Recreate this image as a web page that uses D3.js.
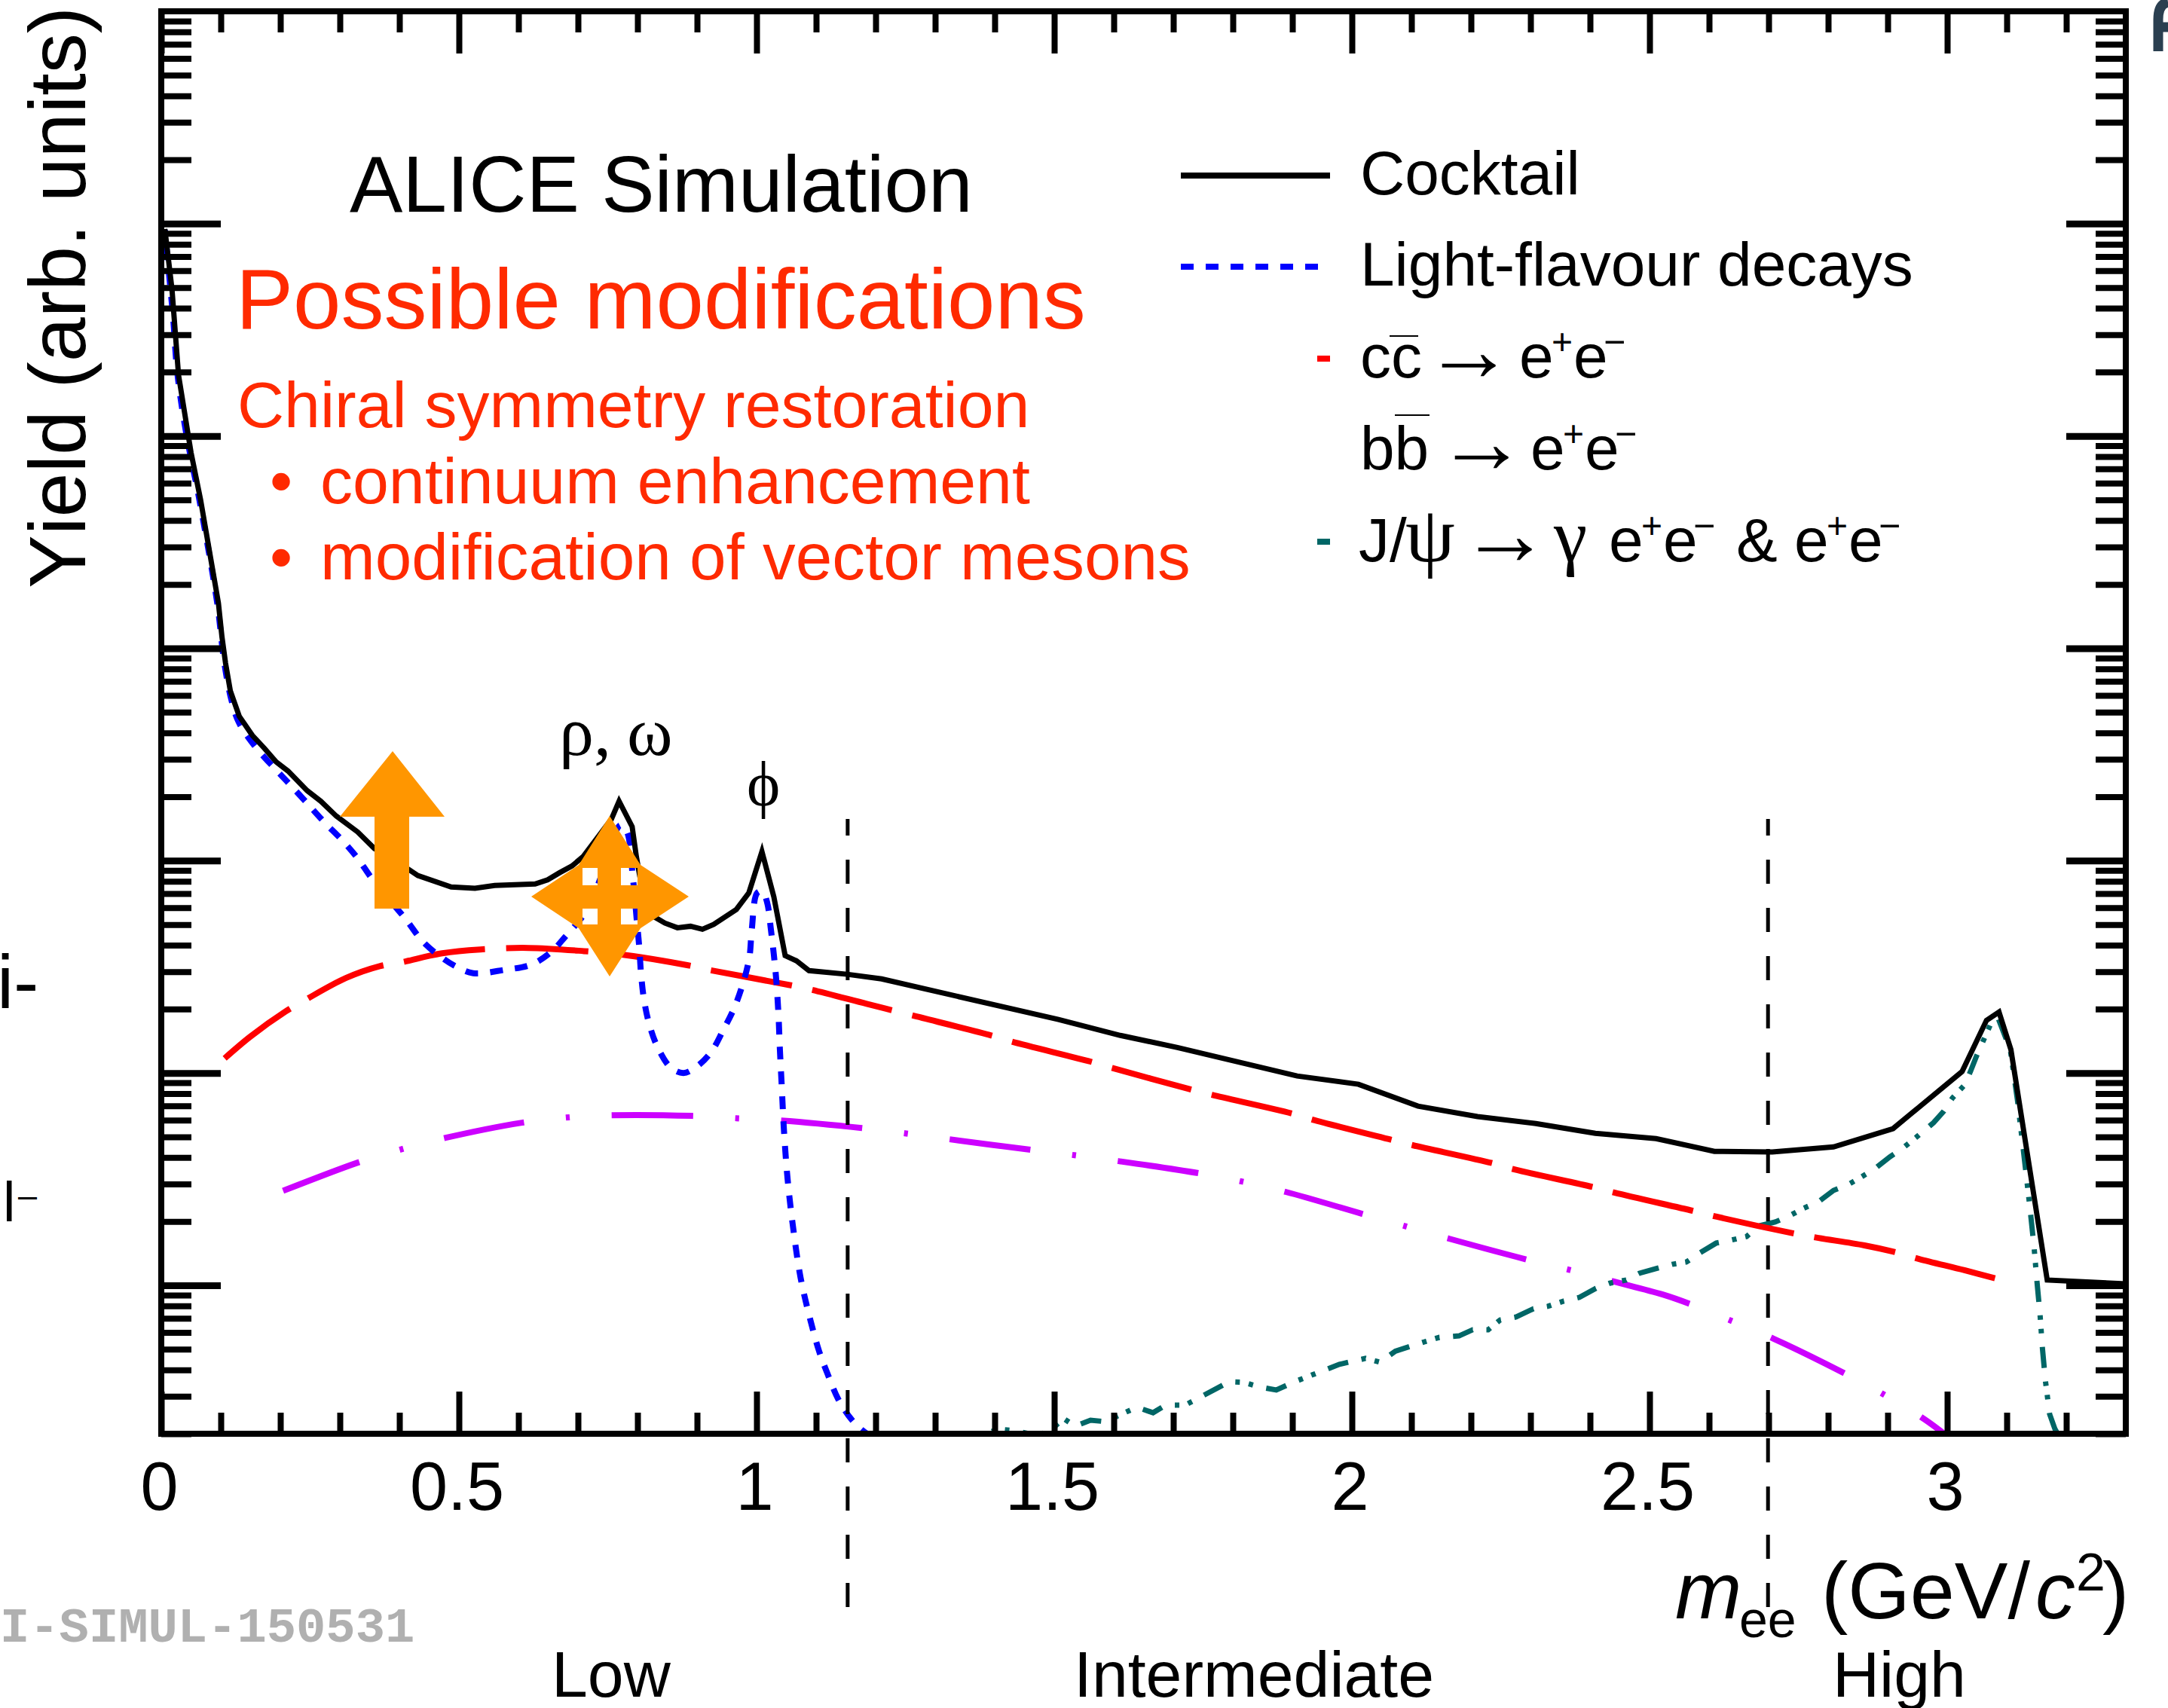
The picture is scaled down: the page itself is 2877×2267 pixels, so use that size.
<!DOCTYPE html>
<html>
<head>
<meta charset="utf-8">
<script src="https://cdn.jsdelivr.net/npm/d3@7"></script>
<style>
  body { margin: 0; background: #fff; }
  svg { display: block; }
  text { font-family: "Liberation Sans", Arial, sans-serif; fill: #000; font-kerning: none; font-variant-ligatures: none; }
  .tick line { stroke: #000; }
</style>
</head>
<body>
<svg id="chart" width="2877" height="2267"></svg>
<script>
// each point is [mee in GeV/c2, log10 of yield]
const cocktail = [[0.006,-0.025],[0.018,-0.309],[0.029,-0.713],[0.05,-1.078],[0.066,-1.3],[0.096,-1.787],[0.102,-1.947],[0.108,-2.07],[0.116,-2.2],[0.131,-2.32],[0.153,-2.41],[0.173,-2.47],[0.193,-2.535],[0.213,-2.578],[0.245,-2.67],[0.268,-2.72],[0.294,-2.79],[0.33,-2.865],[0.358,-2.943],[0.415,-3.04],[0.431,-3.07],[0.487,-3.124],[0.527,-3.13],[0.56,-3.117],[0.628,-3.11],[0.649,-3.09],[0.669,-3.057],[0.69,-3.025],[0.709,-2.98],[0.756,-2.805],[0.769,-2.72],[0.791,-2.84],[0.798,-2.98],[0.804,-3.075],[0.829,-3.266],[0.846,-3.294],[0.867,-3.316],[0.889,-3.309],[0.909,-3.323],[0.928,-3.3],[0.966,-3.23],[0.987,-3.152],[1.009,-2.957],[1.029,-3.17],[1.048,-3.447],[1.067,-3.472],[1.088,-3.518],[1.152,-3.535],[1.21,-3.557],[1.507,-3.748],[1.611,-3.823],[1.707,-3.88],[1.908,-4.014],[2.011,-4.053],[2.111,-4.156],[2.211,-4.205],[2.309,-4.238],[2.409,-4.284],[2.511,-4.309],[2.609,-4.369],[2.706,-4.372],[2.809,-4.348],[2.909,-4.262],[3.025,-3.993],[3.066,-3.752],[3.087,-3.713],[3.107,-3.89],[3.168,-4.975],[3.3,-4.993]];

const lightFlavour = [[0.006,-0.03],[0.0135,-0.25],[0.02,-0.445],[0.0265,-0.69],[0.037,-0.906],[0.048,-1.078],[0.064,-1.3],[0.094,-1.787],[0.106,-2.07],[0.118,-2.245],[0.13,-2.347],[0.157,-2.46],[0.19,-2.564],[0.214,-2.635],[0.242,-2.72],[0.273,-2.816],[0.304,-2.904],[0.33,-2.989],[0.354,-3.085],[0.411,-3.277],[0.439,-3.38],[0.468,-3.45],[0.496,-3.5],[0.524,-3.53],[0.577,-3.514],[0.621,-3.49],[0.655,-3.43],[0.678,-3.36],[0.713,-3.24],[0.745,-3.03],[0.771,-2.833],[0.782,-2.862],[0.792,-3.074],[0.799,-3.287],[0.803,-3.41],[0.806,-3.535],[0.811,-3.656],[0.82,-3.773],[0.834,-3.88],[0.856,-3.975],[0.877,-4.0],[0.897,-3.975],[0.923,-3.904],[0.944,-3.798],[0.963,-3.69],[0.978,-3.57],[0.988,-3.454],[0.992,-3.323],[1.001,-3.152],[1.01,-3.145],[1.018,-3.2],[1.024,-3.323],[1.029,-3.443],[1.033,-3.56],[1.037,-3.738],[1.039,-3.88],[1.042,-4.046],[1.046,-4.27],[1.052,-4.496],[1.061,-4.72],[1.074,-4.965],[1.091,-5.17],[1.105,-5.31],[1.119,-5.415],[1.137,-5.535],[1.159,-5.63],[1.181,-5.69],[1.2,-5.72]];

const charm = [[0.1,-3.947],[0.149,-3.83],[0.209,-3.71],[0.242,-3.656],[0.31,-3.553],[0.367,-3.497],[0.403,-3.479],[0.472,-3.436],[0.536,-3.418],[0.617,-3.411],[0.71,-3.426],[0.776,-3.443],[0.885,-3.493],[0.919,-3.514],[1.054,-3.585],[1.09,-3.606],[1.185,-3.674],[1.259,-3.727],[1.394,-3.823],[1.427,-3.851],[1.562,-3.947],[1.596,-3.975],[1.73,-4.078],[1.765,-4.103],[1.9,-4.191],[1.934,-4.22],[2.068,-4.316],[2.102,-4.34],[2.238,-4.426],[2.273,-4.454],[2.408,-4.539],[2.442,-4.564],[2.577,-4.652],[2.613,-4.677],[2.748,-4.759],[2.784,-4.777],[2.861,-4.812],[2.919,-4.848],[2.953,-4.876],[3.029,-4.929],[3.087,-4.972]];

const beauty = [[0.2,-4.56],[0.33,-4.422],[0.4,-4.362],[0.472,-4.309],[0.606,-4.234],[0.68,-4.21],[0.753,-4.199],[0.892,-4.202],[0.966,-4.213],[1.039,-4.223],[1.177,-4.259],[1.249,-4.284],[1.324,-4.312],[1.461,-4.362],[1.534,-4.387],[1.608,-4.415],[1.743,-4.472],[1.815,-4.511],[1.889,-4.56],[2.022,-4.667],[2.163,-4.78],[2.296,-4.88],[2.368,-4.929],[2.44,-4.982],[2.522,-5.043],[2.572,-5.092],[2.64,-5.17],[2.709,-5.252],[2.83,-5.418],[2.896,-5.518],[2.962,-5.631],[3.0,-5.71]];

const jpsi = [[1.375,-5.71],[1.406,-5.677],[1.432,-5.684],[1.47,-5.706],[1.491,-5.688],[1.516,-5.628],[1.535,-5.663],[1.561,-5.635],[1.586,-5.642],[1.618,-5.6],[1.639,-5.574],[1.666,-5.6],[1.687,-5.564],[1.72,-5.564],[1.739,-5.536],[1.794,-5.454],[1.818,-5.457],[1.847,-5.48],[1.873,-5.493],[1.901,-5.457],[1.979,-5.372],[2.023,-5.344],[2.047,-5.362],[2.073,-5.31],[2.122,-5.266],[2.147,-5.245],[2.18,-5.238],[2.203,-5.209],[2.229,-5.209],[2.249,-5.163],[2.276,-5.149],[2.305,-5.11],[2.329,-5.099],[2.356,-5.074],[2.382,-5.057],[2.41,-5.014],[2.433,-4.99],[2.461,-4.975],[2.483,-4.943],[2.515,-4.918],[2.538,-4.901],[2.562,-4.89],[2.584,-4.848],[2.612,-4.801],[2.637,-4.787],[2.663,-4.77],[2.684,-4.72],[2.711,-4.702],[2.734,-4.674],[2.758,-4.638],[2.784,-4.606],[2.809,-4.553],[2.832,-4.528],[2.856,-4.489],[2.877,-4.454],[2.904,-4.394],[2.925,-4.355],[2.947,-4.305],[2.977,-4.234],[2.994,-4.181],[3.009,-4.117],[3.029,-4.057],[3.039,-3.993],[3.05,-3.915],[3.073,-3.77],[3.085,-3.738],[3.106,-3.89],[3.118,-4.128],[3.128,-4.365],[3.139,-4.635],[3.146,-4.823],[3.151,-4.989],[3.156,-5.14],[3.16,-5.298],[3.165,-5.45],[3.172,-5.606],[3.181,-5.677],[3.19,-5.72]];

const massMajorTicks = [0, 0.5, 1, 1.5, 2, 2.5, 3];
const massTickLabels = ['0', '0.5', '1', '1.5', '2', '2.5', '3'];
const regionEdges = [1.153, 2.699];
const regionLabels = ['Low', 'Intermediate', 'High'];

const svg = d3.select('#chart');

const plotLeft = 214, plotRight = 2821, plotTop = 15, plotBottom = 1903;
const x = d3.scaleLinear().domain([0, 3.3]).range([plotLeft, plotRight]);
const y = d3.scaleLog().domain([2e-6, 10]).range([plotBottom, plotTop]);

const yMajor = d3.range(-5, 1).map(e => 10 ** e);
const yMinor = d3.range(-6, 1).flatMap(e => d3.range(2, 10).map(m => m * 10 ** e)).filter(v => v >= 2e-6 && v < 10);
const xMinor = d3.range(1, 33).map(i => i / 10).filter(v => !massMajorTicks.some(t => Math.abs(t - v) < 1e-6));

svg.append('defs').append('clipPath').attr('id', 'plot')
    .append('rect').attr('x', plotLeft).attr('y', plotTop).attr('width', plotRight - plotLeft).attr('height', plotBottom - plotTop);

const line = (curve) => d3.line().x(d => x(d[0])).y(d => y(10 ** d[1])).curve(curve);

// dashStart is a spot on the curve where the reference has a dash beginning
const series = [
    { data: beauty, color: '#cc00ff', width: 8, dash: '108 56 5 56', dashStart: [1260, 1512], curve: d3.curveCatmullRom },
    { data: jpsi, color: '#006666', width: 7, dash: '28 18 6 12 6 18', dashStart: [2010, 1752], curve: d3.curveLinear },
    { data: charm, color: '#ff0000', width: 8, dash: '109 28', dashStart: [1608, 1453], curve: d3.curveCatmullRom },
    { data: lightFlavour, color: '#0000ff', width: 8, dash: '17 16', dashStart: [1035, 1389], curve: d3.curveCatmullRom },
    { data: cocktail, color: '#000', width: 7, dash: null, curve: d3.curveLinear },
];

function dashOffset(node, [px, py]) {
    const total = node.getTotalLength();
    const best = d3.least(d3.range(0, total, 1), len => {
        const p = node.getPointAtLength(len);
        return (p.x - px) ** 2 + (p.y - py) ** 2;
    });
    return -best;
}

svg.append('g').attr('clip-path', 'url(#plot)')
    .selectAll('path')
    .data(series)
    .join('path')
    .attr('d', s => line(s.curve)(s.data))
    .attr('fill', 'none')
    .attr('stroke', s => s.color)
    .attr('stroke-width', s => s.width)
    .attr('stroke-dasharray', s => s.dash)
    .attr('stroke-dashoffset', function (s) { return s.dash ? dashOffset(this, s.dashStart) : null; })
    .attr('stroke-linejoin', 'miter')
    .attr('stroke-miterlimit', 10);

// frame ticks
function drawAxis(axis, offset, width) {
    const g = svg.append('g').attr('transform', offset).call(axis);
    g.select('.domain').remove();
    g.selectAll('.tick line').attr('stroke-width', width);
    return g;
}

const noLabel = () => '';
drawAxis(d3.axisBottom(x).tickValues(xMinor).tickSize(-28).tickFormat(noLabel), `translate(0,${plotBottom})`, 8);
drawAxis(d3.axisTop(x).tickValues(xMinor).tickSize(-28).tickFormat(noLabel), `translate(0,${plotTop})`, 8);
drawAxis(d3.axisTop(x).tickValues(massMajorTicks).tickSize(-56).tickFormat(noLabel), `translate(0,${plotTop})`, 8);
drawAxis(d3.axisLeft(y).tickValues(yMinor).tickSize(-40).tickFormat(noLabel), `translate(${plotLeft},0)`, 8);
drawAxis(d3.axisLeft(y).tickValues(yMajor).tickSize(-79).tickFormat(noLabel), `translate(${plotLeft},0)`, 9);
drawAxis(d3.axisRight(y).tickValues(yMinor).tickSize(-40).tickFormat(noLabel), `translate(${plotRight},0)`, 8);
drawAxis(d3.axisRight(y).tickValues(yMajor).tickSize(-79).tickFormat(noLabel), `translate(${plotRight},0)`, 9);

const bottomMajor = drawAxis(
    d3.axisBottom(x).tickValues(massMajorTicks).tickSize(-56).tickFormat((d, i) => massTickLabels[i]),
    `translate(0,${plotBottom})`, 8);
bottomMajor.selectAll('.tick text')
    .attr('x', -3).attr('y', 101).attr('dy', 0)
    .style('font-size', '90px')
    .style('font-family', '"Liberation Sans"')
    .attr('text-anchor', 'middle');

svg.append('rect')
    .attr('x', plotLeft).attr('y', plotTop)
    .attr('width', plotRight - plotLeft).attr('height', plotBottom - plotTop)
    .attr('fill', 'none').attr('stroke', '#000').attr('stroke-width', 8);

// region separators
svg.selectAll('.edge')
    .data(regionEdges)
    .join('line')
    .attr('class', 'edge')
    .attr('x1', d => x(d)).attr('x2', d => x(d))
    .attr('y1', 1087).attr('y2', 2133)
    .attr('stroke', '#000').attr('stroke-width', 5)
    .attr('stroke-dasharray', '32 32').attr('stroke-dashoffset', 10);

function label(str, px, py, size, opts = {}) {
    const t = svg.append('text')
        .attr('x', px).attr('y', py)
        .style('font-size', size + 'px')
        .text(str);
    if (opts.fill) t.style('fill', opts.fill);
    if (opts.family) t.style('font-family', opts.family);
    if (opts.weight) t.style('font-weight', opts.weight);
    if (opts.italic) t.style('font-style', 'italic');
    if (opts.anchor) t.attr('text-anchor', opts.anchor);
    return t;
}

const serif = '"Liberation Serif"';
const red = '#ff2a00';

label('ALICE Simulation', 464, 281, 105.5);
label('Possible modifications', 313, 436, 114, { fill: red });
label('Chiral symmetry restoration', 315, 567, 86, { fill: red });
label('•', 358, 668, 86, { fill: red });
label('continuum enhancement', 425, 668, 86, { fill: red });
label('•', 358, 769, 86, { fill: red });
label('modification of vector mesons', 425, 769, 87.3, { fill: red });

svg.append('text')
    .attr('transform', 'translate(113,9) rotate(-90)')
    .attr('text-anchor', 'end')
    .style('font-size', '106px')
    .text('Yield (arb. units)');

label('ρ,', 742, 1002, 92, { family: serif });
label('ω', 832, 1002, 92, { family: serif });
label('ϕ', 1013, 1069, 84, { family: serif, anchor: 'middle' });

// legend
const legendText = 82;
svg.append('line').attr('x1', 1567).attr('x2', 1765).attr('y1', 233).attr('y2', 233)
    .attr('stroke', '#000').attr('stroke-width', 8);
svg.append('line').attr('x1', 1567).attr('x2', 1750).attr('y1', 354).attr('y2', 354)
    .attr('stroke', '#0000ff').attr('stroke-width', 8).attr('stroke-dasharray', '17 16');
svg.append('line').attr('x1', 1748).attr('x2', 1765).attr('y1', 476).attr('y2', 476)
    .attr('stroke', '#ff0000').attr('stroke-width', 8);
svg.append('line').attr('x1', 1748).attr('x2', 1765).attr('y1', 719).attr('y2', 719)
    .attr('stroke', '#006666').attr('stroke-width', 8);

label('Cocktail', 1805, 258, legendText);
label('Light-flavour decays', 1805, 379, legendText);

function electronPair(px, py) {
    label('e', px, py, legendText);
    label('+', px + 43, py - 31, 48);
    label('e', px + 72, py, legendText);
    label('−', px + 112, py - 30, 50);
}

label('cc', 1805, 501, legendText);
svg.append('line').attr('x1', 1844).attr('x2', 1882).attr('y1', 446).attr('y2', 446).attr('stroke', '#000').attr('stroke-width', 2);
label('→', 1889, 505, 120, { family: serif });
electronPair(2016, 501);

label('bb', 1805, 623, legendText);
svg.append('line').attr('x1', 1851).attr('x2', 1897).attr('y1', 551).attr('y2', 551).attr('stroke', '#000').attr('stroke-width', 2);
label('→', 1906, 627, 120, { family: serif });
electronPair(2031, 623);

label('J/', 1803, 745, legendText);
label('ψ', 1865, 745, 105, { family: serif });
label('→', 1937, 749, 120, { family: serif });
label('γ', 2062, 745, 100, { family: serif });
electronPair(2135, 745);
label('&', 2304, 745, legendText);
electronPair(2381, 745);

// axis title and mass regions
label('m', 2223, 2148, 106, { italic: true });
label('ee', 2308, 2173, 68);
label('(GeV/', 2417, 2148, 106);
label('c', 2701, 2148, 106, { italic: true });
label('2', 2755, 2111, 70);
label(')', 2790, 2148, 106);

label(regionLabels[0], 732, 2252, 86);
label(regionLabels[1], 1425, 2252, 86);
label(regionLabels[2], 2432, 2252, 86);

label('I-SIMUL-150531', 0, 2179, 65.5, { family: '"Liberation Mono"', weight: 'bold', fill: '#b0b0b0' });

// cut-off text at the left and right picture edges
label('i', -4, 1338, 100);
label('-', 18, 1338, 100);
label('l', 4, 1621, 74);
label('–', 24, 1602, 45);
svg.append('path')
    .attr('d', 'M2864,68 V26 Q2864,5 2877,3 M2864,36 H2877')
    .attr('fill', 'none').attr('stroke', '#2a3f50').attr('stroke-width', 13);

// orange arrows sit on top of the curves, the four-way one has square holes
svg.append('path')
    .attr('d', 'M521,997 L590,1084 L543,1084 L543,1206 L497,1206 L497,1084 L451,1084 Z')
    .attr('fill', '#ff9600');
svg.append('path')
    .attr('fill', '#ff9600').attr('fill-rule', 'evenodd')
    .attr('d', 'M809,1083 L850,1148 L914,1190 L850,1232 L809,1296 L768,1232 L705,1190 L768,1148 Z'
        + ' M773,1152 H793 V1175 H773 Z M824,1152 H846 V1175 H824 Z'
        + ' M773,1206 H793 V1227 H773 Z M824,1206 H846 V1227 H824 Z');
</script>
</body>
</html>
